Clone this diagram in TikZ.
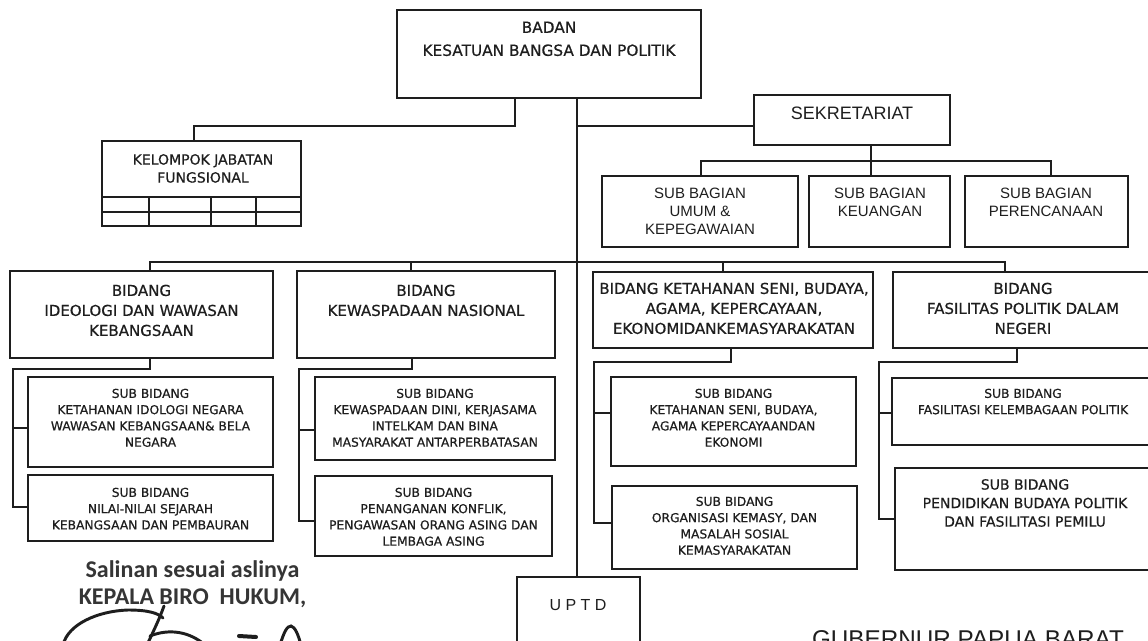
\documentclass[tikz,border=0pt]{standalone}
\usepackage{fontspec}
\usetikzlibrary{fit}
\newfontfamily\tahfont[FakeBold=0.6]{DejaVu Sans}
\newfontfamily\arifont{Liberation Sans}
\newfontfamily\calfont{Carlito}
\definecolor{ink}{HTML}{1E1E1E}
\begin{document}
\begin{tikzpicture}[x=0.75pt,y=-0.75pt,
  box/.style={draw=ink,line width=1.15pt,rectangle,inner sep=0pt},
  conn/.style={draw=ink,line width=1.05pt},
  txt/.style={inner sep=0pt,align=center,text=ink,anchor=north},
  tbad/.style={txt,font=\tahfont\fontsize{11.5}{17.25}\selectfont},
  tkel/.style={txt,font=\tahfont\fontsize{10.5}{13.5}\selectfont},
  tsek/.style={txt,font=\arifont\fontsize{13.5}{16}\selectfont},
  tsb/.style={txt,font=\arifont\fontsize{11.25}{13.5}\selectfont},
  tbid/.style={txt,font=\tahfont\fontsize{11.25}{15}\selectfont},
  tsub/.style={txt,font=\tahfont\fontsize{9.2}{12.2}\selectfont},
  tsubl/.style={txt,font=\tahfont\fontsize{10.5}{13.9}\selectfont},
  tupt/.style={inner sep=0pt,text=ink,font=\arifont\fontsize{12}{14}\selectfont},
  tsal/.style={inner sep=0pt,anchor=base,text=ink!90,font=\calfont\bfseries\fontsize{18}{20}\selectfont},
  tgub/.style={inner sep=0pt,anchor=base,text=ink,font=\arifont\fontsize{18.2}{20}\selectfont},
  sig/.style={draw=ink,line width=2.2pt,line cap=round}]
\useasboundingbox (0,0) rectangle (1148,641);
\fill[white] (0,0) rectangle (1148,641);
\clip (0,0) rectangle (1148,641);

% ---------- boxes ----------
\node[box,fit={(397,10) (701,98)}] (badan) {};
\node[box,fit={(102,141) (301,226)}] (kel) {};
\node[box,fit={(754,95) (950,145)}] (sek) {};
\node[box,fit={(602,176) (798,247)}] (sb1) {};
\node[box,fit={(809,176) (950,247)}] (sb2) {};
\node[box,fit={(965,176) (1128,247)}] (sb3) {};
\node[box,fit={(10,271) (273,358)}] (b1) {};
\node[box,fit={(297,271) (555,358)}] (b2) {};
\node[box,fit={(593,272) (873,348)}] (b3) {};
\node[box,fit={(893,272) (1165,348)}] (b4) {};
\node[box,fit={(28,377) (273,467)}] (s11) {};
\node[box,fit={(28,475) (273,541)}] (s12) {};
\node[box,fit={(315,377) (555,460)}] (s21) {};
\node[box,fit={(315,476) (552,556)}] (s22) {};
\node[box,fit={(611,377) (856,466)}] (s31) {};
\node[box,fit={(612,486) (857,569)}] (s32) {};
\node[box,fit={(892,378) (1165,445)}] (s41) {};
\node[box,fit={(895,468) (1165,570)}] (s42) {};
\node[box,fit={(517,577) (640,700)}] (uptd) {};

% kelompok table grid
\draw[conn] (102,197) -- (301,197);
\draw[conn] (102,212) -- (301,212);
\foreach \gx in {149,211,256} \draw[conn] (\gx,197) -- (\gx,226);

% ---------- texts ----------
\node[tbad] (badan-t) at (549,21.4) {BADAN\\KESATUAN BANGSA DAN POLITIK};
\node[tkel] (kel-t) at (203,153.9) {KELOMPOK JABATAN\\FUNGSIONAL};
\node[tsek] (sek-t) at (852,106.6) {SEKRETARIAT};
\node[tsb] (sb1-t) at (700,187.6) {SUB BAGIAN\\UMUM \&\\KEPEGAWAIAN};
\node[tsb] (sb2-t) at (880,187.6) {SUB BAGIAN\\KEUANGAN};
\node[tsb] (sb3-t) at (1046,187.6) {SUB BAGIAN\\PERENCANAAN};
\node[tbid] (b1-t) at (141.5,284.5) {BIDANG\\IDEOLOGI DAN WAWASAN\\KEBANGSAAN};
\node[tbid] (b2-t) at (426,284.5) {BIDANG\\KEWASPADAAN NASIONAL};
\node[tbid] (b3-t) at (734,282.5) {BIDANG KETAHANAN SENI, BUDAYA,\\AGAMA, KEPERCAYAAN,\\EKONOMIDANKEMASYARAKATAN};
\node[tbid] (b4-t) at (1023,282.5) {BIDANG\\FASILITAS POLITIK DALAM\\NEGERI};
\node[tsub] (s11-t) at (150.5,388.5) {SUB BIDANG\\KETAHANAN IDOLOGI NEGARA\\WAWASAN KEBANGSAAN\& BELA\\NEGARA};
\node[tsub] (s12-t) at (150.5,487.5) {SUB BIDANG\\NILAI-NILAI SEJARAH\\KEBANGSAAN DAN PEMBAURAN};
\node[tsub] (s21-t) at (435,388.5) {SUB BIDANG\\KEWASPADAAN DINI, KERJASAMA\\INTELKAM DAN BINA\\MASYARAKAT ANTARPERBATASAN};
\node[tsub] (s22-t) at (433.5,487.5) {SUB BIDANG\\PENANGANAN KONFLIK,\\PENGAWASAN ORANG ASING DAN\\LEMBAGA ASING};
\node[tsub] (s31-t) at (733.5,388.5) {SUB BIDANG\\KETAHANAN SENI, BUDAYA,\\AGAMA KEPERCAYAANDAN\\EKONOMI};
\node[tsub] (s32-t) at (734.5,496.5) {SUB BIDANG\\ORGANISASI KEMASY, DAN\\MASALAH SOSIAL\\KEMASYARAKATAN};
\node[tsub] (s41-t) at (1023,388.5) {SUB BIDANG\\FASILITASI KELEMBAGAAN POLITIK};
\node[tsubl] (s42-t) at (1025,478.9) {SUB BIDANG\\PENDIDIKAN BUDAYA POLITIK\\DAN FASILITASI PEMILU};
\node[tupt] (uptd-t) at (578,605) {U P T D};

\node[tsal] (sal1) at (192.5,577) {Salinan sesuai aslinya};
\node[tsal] (sal2) at (192.5,604) {KEPALA BIRO\ \ HUKUM,};
\node[tgub] (gub) at (968,647) {GUBERNUR PAPUA BARAT};

% ---------- connectors ----------
\coordinate (tr) at (577,0);
\draw[conn] (badan.south -| tr) -- (uptd.north -| tr);

\coordinate (kA) at (515,126);
\coordinate (kB) at (194,126);
\draw[conn] (badan.south -| kA) -- (kA) -- (kB) -- (kel.north -| kB);
\draw[conn] (tr |- kA) -- (sek.west |- kA);

\coordinate (sA) at (871,161);
\coordinate (sL) at (701,161);
\coordinate (sR) at (1051,161);
\draw[conn] (sek.south -| sA) -- (sb2.north -| sA);
\draw[conn] (sb1.north -| sL) -- (sL) -- (sR) -- (sb3.north -| sR);

\coordinate (bL) at (150,262);
\coordinate (bR) at (1005,262);
\coordinate (b2x) at (411,262);
\coordinate (b3x) at (723,262);
\draw[conn] (b1.north -| bL) -- (bL) -- (bR) -- (b4.north -| bR);
\draw[conn] (b2x) -- (b2.north -| b2x);
\draw[conn] (b3x) -- (b3.north -| b3x);

% group 1
\coordinate (g1a) at (150,369); \coordinate (g1b) at (13,369);
\coordinate (g1c) at (13,428);  \coordinate (g1d) at (13,507);
\draw[conn] (b1.south -| g1a) -- (g1a) -- (g1b) -- (g1d) -- (s12.west |- g1d);
\draw[conn] (g1c) -- (s11.west |- g1c);
% group 2
\coordinate (g2a) at (412,369); \coordinate (g2b) at (299,369);
\coordinate (g2c) at (299,430); \coordinate (g2d) at (299,521);
\draw[conn] (b2.south -| g2a) -- (g2a) -- (g2b) -- (g2d) -- (s22.west |- g2d);
\draw[conn] (g2c) -- (s21.west |- g2c);
% group 3
\coordinate (g3a) at (731,362); \coordinate (g3b) at (594,362);
\coordinate (g3c) at (594,413); \coordinate (g3d) at (594,523);
\draw[conn] (b3.south -| g3a) -- (g3a) -- (g3b) -- (g3d) -- (s32.west |- g3d);
\draw[conn] (g3c) -- (s31.west |- g3c);
% group 4
\coordinate (g4a) at (1017,362); \coordinate (g4b) at (879,362);
\coordinate (g4c) at (879,413);  \coordinate (g4d) at (879,519);
\draw[conn] (b4.south -| g4a) -- (g4a) -- (g4b) -- (g4d) -- (s42.west |- g4d);
\draw[conn] (g4c) -- (s41.west |- g4c);

% ---------- signature ----------
\draw[sig] (63,645) .. controls (68,624) and (98,611) .. (128,610) .. controls (148,610) and (158,613) .. (163,618);
\draw[sig] (164,606) .. controls (159,620) and (153,632) .. (147,645);
\draw[sig] (150,636) .. controls (170,628) and (190,632) .. (205,645);
\draw[sig,line width=3pt] (239,636) -- (256,637);
\draw[sig] (280,645) .. controls (284,632) and (287,626) .. (291,626) .. controls (295,627) and (298,634) .. (301,645);
\end{tikzpicture}
\end{document}
